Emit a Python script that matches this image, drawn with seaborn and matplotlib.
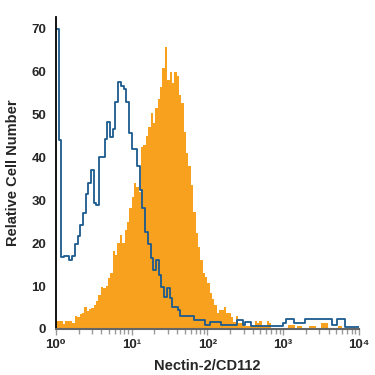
import numpy as np
import matplotlib
matplotlib.use("Agg")
import matplotlib.pyplot as plt
import seaborn as sns

# Stained sample (filled orange), 32 bins per decade from 10^0 to 10^4
stained_counts = [
    1.9, 1.9, 1.9, 1.2, 1.9, 1.9, 1.9, 1.4, 3.0, 2.8, 3.5, 3.7, 5.1, 4.3, 4.6, 4.9,
    5.6, 6.5, 7.9, 9.7, 9.5, 10.0, 11.8, 13.0, 18.3, 17.3, 20.0, 21.9, 20.0, 23.1, 25.0, 28.2,
    30.9, 34.1, 33.2, 31.9, 42.5, 43.0, 45.0, 47.1, 50.5, 48.0, 51.5, 53.6, 56.5, 61.0, 65.9, 58.1,
    60.0, 57.3, 60.0, 59.0, 54.6, 52.7, 46.0, 41.0, 38.0, 33.6, 27.4, 22.3, 19.2, 16.1, 13.0, 12.2,
    10.7, 8.3, 7.0, 5.6, 3.7, 4.5, 4.5, 5.1, 3.7, 3.7, 2.8, 1.7, 3.1, 1.3, 1.3, 0.6,
    0.6, 0.6, 0.6, 0.6, 1.9, 1.3, 1.9, 0.6, 0.6, 1.9, 1.3, 0.3, 0.3, 0.3, 0.3, 0.3,
    0.3, 0.3, 1.0, 1.0, 1.0, 0.3, 0.7, 0.7, 0.3, 0.3, 0.3, 0.6, 0.6, 0.6, 0.3, 0.3,
    1.3, 1.3, 1.3, 0.3, 0.3, 0.3, 0.3, 0.6, 0.6, 0.3, 0.3, 0.3, 0.3, 0.3, 0.3, 0.3,
]

# Control (blue outline), 28 bins per decade from 10^0 to 10^4
control_counts = [
    70, 44, 16.7, 17, 17, 16.1, 17, 19.8, 21.7, 24.3, 27.1, 31.4, 34, 37, 29.5, 28.9,
    40.2, 40.2, 44.3, 48.2, 44.9, 46.6, 53, 57.7, 56.8, 56, 53, 45.7, 41.9, 42, 38, 32.4,
    28.2, 22.7, 19.8, 16.5, 13.8, 16.1, 12.6, 9.9, 7.5, 9.5, 7.2, 5.2, 5.2, 4.4, 3.0, 3.0,
    3.0, 3.0, 3.0, 2.1, 2.1, 2.1, 2.1, 0.9, 0.9, 1.7, 1.7, 1.7, 1.7, 0.9, 0.9, 0.9,
    0.9, 0.9, 0.9, 2.1, 2.1, 0.9, 1.7, 1.7, 0.6, 0.6, 0.6, 0.6, 0.6, 0.6, 0.6, 0.6,
    0.6, 0.6, 0.6, 0.6, 1.3, 2.3, 2.3, 2.3, 1.3, 1.3, 1.3, 1.3, 2.3, 2.3, 2.3, 2.3,
    2.3, 2.3, 2.3, 2.3, 2.3, 2.3, 0.9, 0.9, 2.3, 2.3, 2.3, 0.5, 0.5, 0.5, 0.5, 0.5,
]

decades = (0, 4)
y_ticks = [0, 10, 20, 30, 40, 50, 60, 70]
x_ticks = [1, 10, 100, 1000, 10000]
x_tick_labels = ["10⁰", "10¹", "10²", "10³", "10⁴"]


def bin_centers(n):
    # centres of n equal bins across the log range, back in linear units
    step = (decades[1] - decades[0]) / n
    return 10 ** (decades[0] + step * (np.arange(n) + 0.5))


sns.set_style("white")
plt.rcParams["font.family"] = ["Liberation Sans Narrow", "Liberation Sans", "DejaVu Sans"]
plt.rcParams["font.weight"] = "bold"

fig = plt.figure(figsize=(3.75, 3.75), dpi=100)
ax = fig.add_axes([0.149, 0.1227, 0.808, 0.832])

sns.histplot(x=bin_centers(len(stained_counts)), weights=stained_counts,
             bins=len(stained_counts), binrange=decades, log_scale=True,
             element="step", fill=True, color="#f7a11e", alpha=1, linewidth=0, ax=ax)
sns.histplot(x=bin_centers(len(control_counts)), weights=control_counts,
             bins=len(control_counts), binrange=decades, log_scale=True,
             element="step", fill=False, color="#1b5a8e", linewidth=1.3, ax=ax)

ax.set_xlim(1, 10000)
ax.set_ylim(0, 72.8)
ax.set_yticks(y_ticks)
ax.set_xticks(x_ticks)
ax.set_xticklabels(x_tick_labels)

ax.set_xlabel("Nectin-2/CD112", fontsize=10.5, fontweight="bold", labelpad=6)
ax.set_ylabel("Relative Cell Number", fontsize=10.5, fontweight="bold", labelpad=8)

sns.despine(ax=ax)
ax.spines["left"].set_color("black")
ax.spines["left"].set_linewidth(1.3)
ax.spines["bottom"].set_color("#666666")
ax.spines["bottom"].set_linewidth(1.5)

ax.tick_params(axis="y", which="major", length=5, width=1, color="#999999",
               labelsize=9.5, pad=2)
ax.tick_params(axis="x", which="both", length=4, width=1, color="#999999",
               labelsize=9.5, pad=3, direction="out", bottom=True)
ax.tick_params(axis="x", which="minor", length=3.5)

fig.savefig("out.png", dpi=100)
